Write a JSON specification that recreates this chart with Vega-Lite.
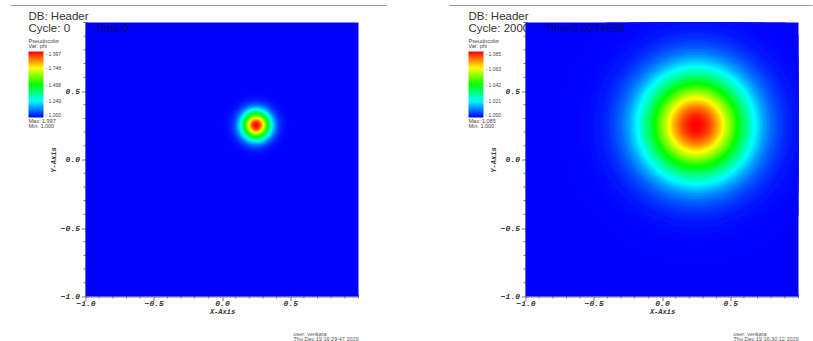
{
  "$schema": "https://vega.github.io/schema/vega-lite/v6.json",
  "autosize": {"type": "pad"},
  "padding": {"left": 9.5, "top": 4.5, "right": 0, "bottom": 0},
  "background": "white",
  "config": {
    "view": {"stroke": null},
    "font": "Liberation Sans",
    "axis": {
      "grid": false,
      "domainColor": "#777777",
      "tickColor": "#777777",
      "tickSize": 4,
      "labelFont": "Liberation Mono",
      "labelFontStyle": "italic",
      "labelFontWeight": "bold",
      "labelFontSize": 8,
      "labelColor": "#333333",
      "titleFont": "Liberation Mono",
      "titleFontStyle": "italic",
      "titleFontWeight": "bold",
      "titleFontSize": 7,
      "titleColor": "#333333",
      "labelOverlap": false,
      "labelFlush": false,
      "labelBound": false
    },
    "legend": {
      "orient": "none",
      "legendX": -57,
      "legendY": 16,
      "direction": "vertical",
      "gradientLength": 66,
      "gradientThickness": 15,
      "gradientStrokeWidth": 0,
      "titleFont": "Liberation Sans",
      "titleFontSize": 5.5,
      "titleFontWeight": "normal",
      "titleColor": "#444444",
      "titleLineHeight": 5.5,
      "titlePadding": 2,
      "labelFont": "Liberation Sans",
      "labelFontSize": 5,
      "labelColor": "#444444",
      "labelOffset": 1,
      "labelOverlap": false,
      "padding": 0
    }
  },
  "datasets": {
    "minor": [
      {"v": -0.9}, {"v": -0.8}, {"v": -0.7}, {"v": -0.6}, {"v": -0.4}, {"v": -0.3}, {"v": -0.2}, {"v": -0.1},
      {"v": 0.1}, {"v": 0.2}, {"v": 0.3}, {"v": 0.4}, {"v": 0.6}, {"v": 0.7}, {"v": 0.8}, {"v": 0.9}, {"v": 1.0}
    ],
    "blob0": [
      {"r": 0.25, "phi": 1.0025}, {"r": 0.24, "phi": 1.0040}, {"r": 0.23, "phi": 1.0063}, {"r": 0.22, "phi": 1.0098},
      {"r": 0.21, "phi": 1.0149}, {"r": 0.20, "phi": 1.0222}, {"r": 0.19, "phi": 1.0325}, {"r": 0.18, "phi": 1.0466},
      {"r": 0.17, "phi": 1.0655}, {"r": 0.16, "phi": 1.0902}, {"r": 0.15, "phi": 1.1218}, {"r": 0.14, "phi": 1.1611},
      {"r": 0.13, "phi": 1.2090}, {"r": 0.12, "phi": 1.2657}, {"r": 0.11, "phi": 1.3310}, {"r": 0.10, "phi": 1.4043},
      {"r": 0.09, "phi": 1.4841}, {"r": 0.08, "phi": 1.5681}, {"r": 0.07, "phi": 1.6534}, {"r": 0.06, "phi": 1.7368},
      {"r": 0.05, "phi": 1.8142}, {"r": 0.04, "phi": 1.8821}, {"r": 0.03, "phi": 1.9366}, {"r": 0.02, "phi": 1.9748},
      {"r": 0.01, "phi": 1.9945}
    ],
    "blob1": [
      {"r": 1.00, "phi": 1.0001}, {"r": 0.90, "phi": 1.0003}, {"r": 0.85, "phi": 1.0005}, {"r": 0.80, "phi": 1.0010},
      {"r": 0.75, "phi": 1.0017}, {"r": 0.70, "phi": 1.0025}, {"r": 0.68, "phi": 1.0031}, {"r": 0.66, "phi": 1.0037},
      {"r": 0.64, "phi": 1.0045}, {"r": 0.62, "phi": 1.0054}, {"r": 0.60, "phi": 1.0065}, {"r": 0.58, "phi": 1.0077},
      {"r": 0.56, "phi": 1.0090}, {"r": 0.54, "phi": 1.0106}, {"r": 0.52, "phi": 1.0124},
      {"r": 0.50, "phi": 1.01384}, {"r": 0.49, "phi": 1.01488}, {"r": 0.48, "phi": 1.01598}, {"r": 0.47, "phi": 1.01713},
      {"r": 0.46, "phi": 1.01834}, {"r": 0.45, "phi": 1.01960}, {"r": 0.44, "phi": 1.02093}, {"r": 0.43, "phi": 1.02230},
      {"r": 0.42, "phi": 1.02373}, {"r": 0.41, "phi": 1.02522}, {"r": 0.40, "phi": 1.02676}, {"r": 0.39, "phi": 1.02835},
      {"r": 0.38, "phi": 1.02999}, {"r": 0.37, "phi": 1.03168}, {"r": 0.36, "phi": 1.03342}, {"r": 0.35, "phi": 1.03520},
      {"r": 0.34, "phi": 1.03702}, {"r": 0.33, "phi": 1.03887}, {"r": 0.32, "phi": 1.04076}, {"r": 0.31, "phi": 1.04267},
      {"r": 0.30, "phi": 1.04461}, {"r": 0.29, "phi": 1.04657}, {"r": 0.28, "phi": 1.04854}, {"r": 0.27, "phi": 1.05052},
      {"r": 0.26, "phi": 1.05251}, {"r": 0.25, "phi": 1.05449}, {"r": 0.24, "phi": 1.05646}, {"r": 0.23, "phi": 1.05842},
      {"r": 0.22, "phi": 1.06036}, {"r": 0.21, "phi": 1.06226}, {"r": 0.20, "phi": 1.06414}, {"r": 0.19, "phi": 1.06597},
      {"r": 0.18, "phi": 1.06775}, {"r": 0.17, "phi": 1.06948}, {"r": 0.16, "phi": 1.07114}, {"r": 0.15, "phi": 1.07274},
      {"r": 0.14, "phi": 1.07427}, {"r": 0.13, "phi": 1.07571}, {"r": 0.12, "phi": 1.07707}, {"r": 0.11, "phi": 1.07833},
      {"r": 0.10, "phi": 1.07950}, {"r": 0.09, "phi": 1.08057}, {"r": 0.08, "phi": 1.08153}, {"r": 0.07, "phi": 1.08238},
      {"r": 0.06, "phi": 1.08312}, {"r": 0.05, "phi": 1.08373}, {"r": 0.04, "phi": 1.08423}, {"r": 0.03, "phi": 1.08461},
      {"r": 0.02, "phi": 1.08486}, {"r": 0.01, "phi": 1.08498}
    ]
  },
  "spacing": 167,
  "bounds": "flush",
  "resolve": {"scale": {"color": "independent"}, "legend": {"color": "independent"}},
  "hconcat": [
    {
      "width": 273,
      "height": 274,
      "layer": [
        {
          "data": {"values": [{}]},
          "mark": {"type": "rule", "color": "#9a9a9a", "strokeWidth": 1},
          "encoding": {"x": {"datum": -1.549, "type": "quantitative"}, "x2": {"datum": 1.205}, "y": {"datum": 1.124, "type": "quantitative"}}
        },
        {
          "data": {"values": [{}]},
          "mark": {"type": "text", "text": ["DB: Header", "Cycle: 0"], "align": "left", "baseline": "alphabetic", "fontSize": 11.5, "lineHeight": 12, "color": "#333333"},
          "encoding": {"x": {"datum": -1.4176, "type": "quantitative"}, "y": {"datum": 1.0146, "type": "quantitative"}}
        },
        {
          "data": {"name": "minor"},
          "mark": {"type": "tick", "orient": "vertical", "size": 4, "thickness": 1, "color": "#777777", "opacity": 1},
          "encoding": {"x": {"field": "v", "type": "quantitative"}, "y": {"datum": -1, "type": "quantitative"}}
        },
        {
          "data": {"name": "minor"},
          "mark": {"type": "tick", "orient": "horizontal", "size": 4, "thickness": 1, "color": "#777777", "opacity": 1},
          "encoding": {"y": {"field": "v", "type": "quantitative"}, "x": {"datum": -1, "type": "quantitative"}}
        },
        {
          "data": {"values": [{}]},
          "mark": {"type": "rect", "color": "#0000ff"},
          "encoding": {
            "x": {"datum": -1, "type": "quantitative", "scale": {"domain": [-1, 1], "nice": false, "zero": false},
              "axis": {"title": "X-Axis", "values": [-1, -0.5, 0, 0.5], "format": ".1f", "labelOverlap": false, "labelPadding": -1, "titlePadding": 0}},
            "x2": {"datum": 1},
            "y": {"datum": -1, "type": "quantitative", "scale": {"domain": [-1, 1], "nice": false, "zero": false},
              "axis": {"title": "Y-Axis", "values": [-1, -0.5, 0, 0.5], "format": ".1f", "labelOverlap": false, "labelPadding": 2, "titlePadding": 4}},
            "y2": {"datum": 1}
          }
        },
        {
          "data": {"name": "blob0"},
          "mark": {"type": "point", "shape": "circle", "filled": true, "opacity": 1, "strokeWidth": 0, "clip": true},
          "encoding": {
            "x": {"datum": 0.25, "type": "quantitative"},
            "y": {"datum": 0.25, "type": "quantitative"},
            "size": {"field": "r", "type": "quantitative", "scale": {"type": "pow", "exponent": 2, "domain": [0, 1], "range": [0, 74529]}, "legend": null},
            "color": {"field": "phi", "type": "quantitative",
              "scale": {"domain": [1.0, 1.24925, 1.4985, 1.74775, 1.997], "range": ["#0000ff", "#00ffff", "#00ff00", "#ffff00", "#ff0000"], "interpolate": "rgb"},
              "legend": {"title": ["Pseudocolor", "Var: phi"], "values": [1.0, 1.249, 1.498, 1.748, 1.997], "labelExpr": "'- ' + format(datum.value, '.3f')"}},
            "order": {"field": "r", "sort": "descending"}
          }
        },
        {
          "data": {"values": [{}]},
          "mark": {"type": "text", "text": "Time:0", "align": "left", "baseline": "alphabetic", "fontSize": 11, "color": "#0b0b6e"},
          "encoding": {"x": {"datum": -0.927, "type": "quantitative"}, "y": {"datum": 0.93, "type": "quantitative"}}
        },
        {
          "data": {"values": [{}]},
          "mark": {"type": "text", "text": ["Max:  1.997", "Min:  1.000"], "align": "left", "baseline": "alphabetic", "fontSize": 5.5, "lineHeight": 5.5, "color": "#444444"},
          "encoding": {"x": {"datum": -1.4176, "type": "quantitative"}, "y": {"datum": 0.27, "type": "quantitative"}}
        },
        {
          "data": {"values": [{}]},
          "mark": {"type": "text", "text": ["user: venkata", "Thu Dec 19 16:29:47 2019"], "align": "left", "baseline": "alphabetic", "fontSize": 5.5, "lineHeight": 5.5, "color": "#555555"},
          "encoding": {"x": {"datum": 0.5238, "type": "quantitative"}, "y": {"datum": -1.2847, "type": "quantitative"}}
        }
      ]
    },
    {
      "width": 273,
      "height": 274,
      "layer": [
        {
          "data": {"values": [{}]},
          "mark": {"type": "rule", "color": "#9a9a9a", "strokeWidth": 1},
          "encoding": {"x": {"datum": -1.557, "type": "quantitative"}, "x2": {"datum": 1.103}, "y": {"datum": 1.124, "type": "quantitative"}}
        },
        {
          "data": {"values": [{}]},
          "mark": {"type": "text", "text": ["DB: Header", "Cycle: 2000"], "align": "left", "baseline": "alphabetic", "fontSize": 11.5, "lineHeight": 12, "color": "#333333"},
          "encoding": {"x": {"datum": -1.4176, "type": "quantitative"}, "y": {"datum": 1.0146, "type": "quantitative"}}
        },
        {
          "data": {"name": "minor"},
          "mark": {"type": "tick", "orient": "vertical", "size": 4, "thickness": 1, "color": "#777777", "opacity": 1},
          "encoding": {"x": {"field": "v", "type": "quantitative"}, "y": {"datum": -1, "type": "quantitative"}}
        },
        {
          "data": {"name": "minor"},
          "mark": {"type": "tick", "orient": "horizontal", "size": 4, "thickness": 1, "color": "#777777", "opacity": 1},
          "encoding": {"y": {"field": "v", "type": "quantitative"}, "x": {"datum": -1, "type": "quantitative"}}
        },
        {
          "data": {"values": [{}]},
          "mark": {"type": "rect", "color": "#0000ff"},
          "encoding": {
            "x": {"datum": -1, "type": "quantitative", "scale": {"domain": [-1, 1], "nice": false, "zero": false},
              "axis": {"title": "X-Axis", "values": [-1, -0.5, 0, 0.5], "format": ".1f", "labelOverlap": false, "labelPadding": -1, "titlePadding": 0}},
            "x2": {"datum": 1},
            "y": {"datum": -1, "type": "quantitative", "scale": {"domain": [-1, 1], "nice": false, "zero": false},
              "axis": {"title": "Y-Axis", "values": [-1, -0.5, 0, 0.5], "format": ".1f", "labelOverlap": false, "labelPadding": 2, "titlePadding": 4}},
            "y2": {"datum": 1}
          }
        },
        {
          "data": {"name": "blob1"},
          "mark": {"type": "point", "shape": "circle", "filled": true, "opacity": 1, "strokeWidth": 0, "clip": true},
          "encoding": {
            "x": {"datum": 0.25, "type": "quantitative"},
            "y": {"datum": 0.25, "type": "quantitative"},
            "size": {"field": "r", "type": "quantitative", "scale": {"type": "pow", "exponent": 2, "domain": [0, 1], "range": [0, 74529]}, "legend": null},
            "color": {"field": "phi", "type": "quantitative",
              "scale": {"domain": [1.0, 1.02125, 1.0425, 1.06375, 1.085], "range": ["#0000ff", "#00ffff", "#00ff00", "#ffff00", "#ff0000"], "interpolate": "rgb"},
              "legend": {"title": ["Pseudocolor", "Var: phi"], "values": [1.0, 1.021, 1.042, 1.063, 1.085], "labelExpr": "'- ' + format(datum.value, '.3f')"}},
            "order": {"field": "r", "sort": "descending"}
          }
        },
        {
          "data": {"values": [{}]},
          "mark": {"type": "text", "text": "Time:0.0274658", "align": "left", "baseline": "alphabetic", "fontSize": 11, "color": "#0b0b6e"},
          "encoding": {"x": {"datum": -0.8535, "type": "quantitative"}, "y": {"datum": 0.93, "type": "quantitative"}}
        },
        {
          "data": {"values": [{}]},
          "mark": {"type": "text", "text": ["Max:  1.085", "Min:  1.000"], "align": "left", "baseline": "alphabetic", "fontSize": 5.5, "lineHeight": 5.5, "color": "#444444"},
          "encoding": {"x": {"datum": -1.4176, "type": "quantitative"}, "y": {"datum": 0.27, "type": "quantitative"}}
        },
        {
          "data": {"values": [{}]},
          "mark": {"type": "text", "text": ["user: venkata", "Thu Dec 19 16:30:12 2019"], "align": "left", "baseline": "alphabetic", "fontSize": 5.5, "lineHeight": 5.5, "color": "#555555"},
          "encoding": {"x": {"datum": 0.5238, "type": "quantitative"}, "y": {"datum": -1.2847, "type": "quantitative"}}
        }
      ]
    }
  ]
}
